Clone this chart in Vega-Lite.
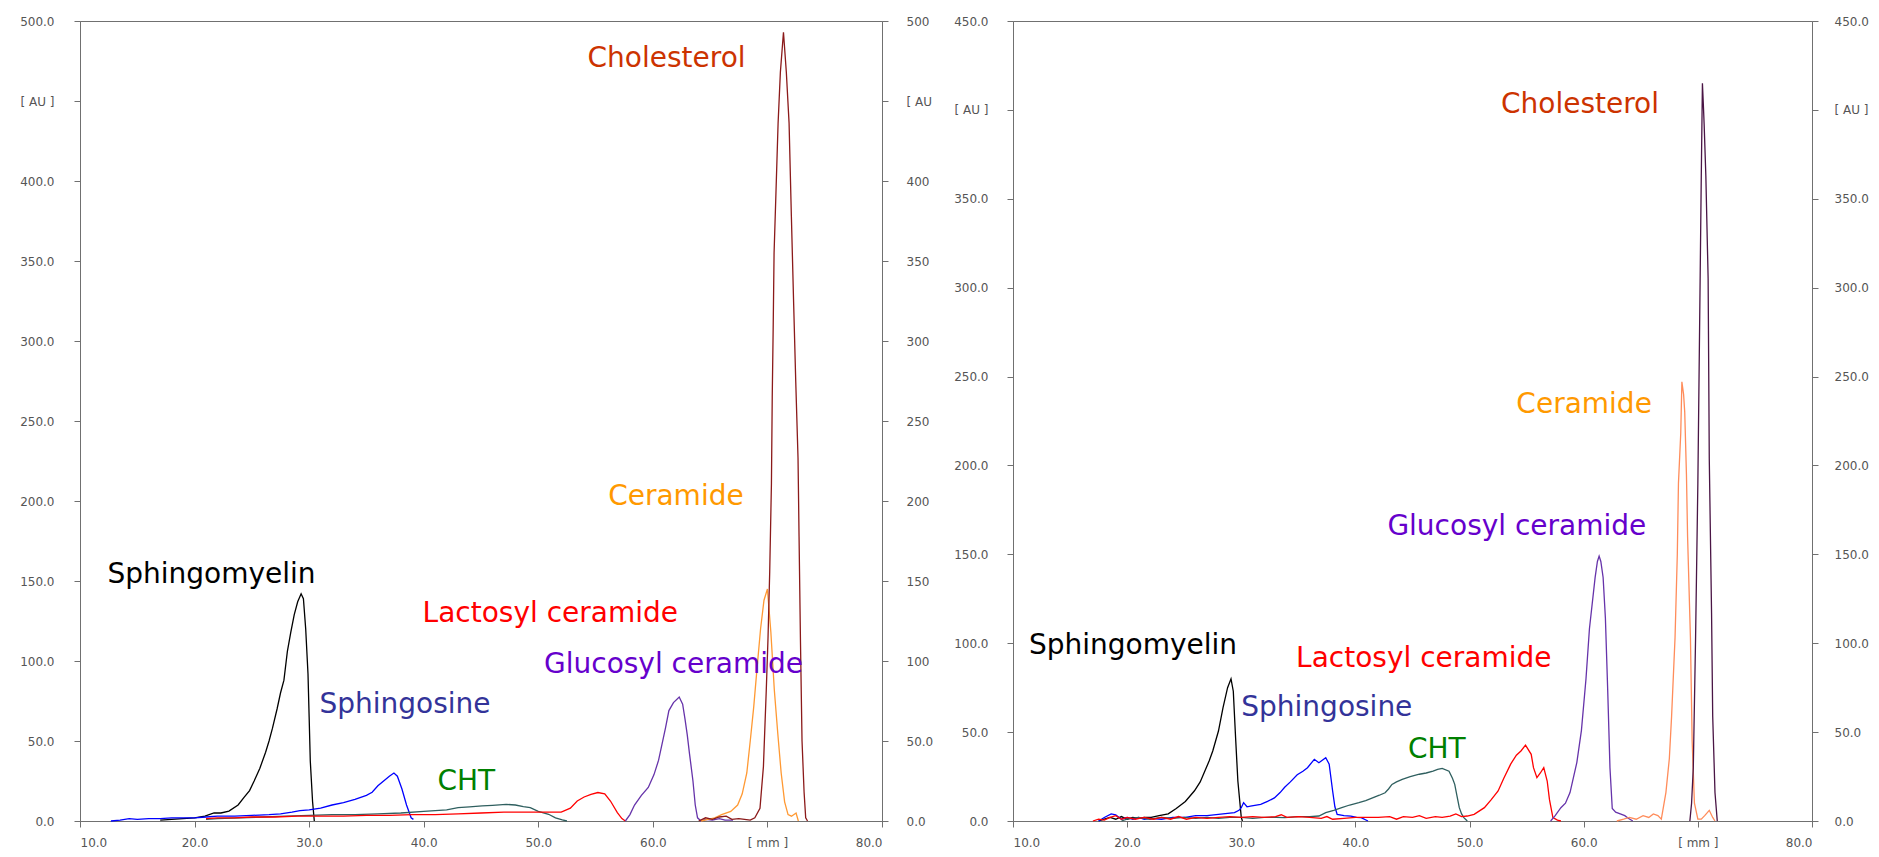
{
  "$schema": "https://vega.github.io/schema/vega-lite/v6.json",
  "background": "white",
  "padding": {"left": 19, "top": 14, "right": 0, "bottom": 0},
  "bounds": "flush",
  "spacing": 131,
  "resolve": {"scale": {"stroke": "independent", "fill": "independent"}},
  "config": {
    "view": {"stroke": "#707070", "strokeWidth": 1},
    "axis": {"domainColor": "#707070", "tickColor": "#707070", "labelColor": "#555555", "labelFont": "DejaVu Sans", "labelFontSize": 12, "grid": false, "title": null, "tickSize": 6},
    "line": {"strokeWidth": 1.3}
  },
  "datasets": {
    "left": [
      {"s":"Sphingomyelin","mm":17.0,"au":0.5},{"s":"Sphingomyelin","mm":18.0,"au":1},{"s":"Sphingomyelin","mm":19.0,"au":1.5},{"s":"Sphingomyelin","mm":20.0,"au":2},{"s":"Sphingomyelin","mm":20.9,"au":3.1},{"s":"Sphingomyelin","mm":21.7,"au":5},{"s":"Sphingomyelin","mm":22.3,"au":5},{"s":"Sphingomyelin","mm":23.0,"au":6.2},{"s":"Sphingomyelin","mm":23.8,"au":10},{"s":"Sphingomyelin","mm":24.3,"au":14.6},{"s":"Sphingomyelin","mm":24.8,"au":19},{"s":"Sphingomyelin","mm":25.2,"au":25},{"s":"Sphingomyelin","mm":25.7,"au":33},{"s":"Sphingomyelin","mm":26.2,"au":43},{"s":"Sphingomyelin","mm":26.5,"au":50},{"s":"Sphingomyelin","mm":26.8,"au":58},{"s":"Sphingomyelin","mm":27.2,"au":70},{"s":"Sphingomyelin","mm":27.5,"au":80},{"s":"Sphingomyelin","mm":27.8,"au":88},{"s":"Sphingomyelin","mm":28.1,"au":106},{"s":"Sphingomyelin","mm":28.4,"au":118},{"s":"Sphingomyelin","mm":28.7,"au":129},{"s":"Sphingomyelin","mm":29.0,"au":137},{"s":"Sphingomyelin","mm":29.3,"au":142},{"s":"Sphingomyelin","mm":29.5,"au":139},{"s":"Sphingomyelin","mm":29.7,"au":120},{"s":"Sphingomyelin","mm":29.9,"au":92},{"s":"Sphingomyelin","mm":30.0,"au":65},{"s":"Sphingomyelin","mm":30.1,"au":37.5},{"s":"Sphingomyelin","mm":30.3,"au":12},{"s":"Sphingomyelin","mm":30.45,"au":0},
      {"s":"Sphingosine","mm":12.7,"au":0},{"s":"Sphingosine","mm":13.5,"au":0.5},{"s":"Sphingosine","mm":14.3,"au":1.5},{"s":"Sphingosine","mm":15.0,"au":1},{"s":"Sphingosine","mm":16.0,"au":1.5},{"s":"Sphingosine","mm":17.0,"au":1.5},{"s":"Sphingosine","mm":18.0,"au":2},{"s":"Sphingosine","mm":19.0,"au":2},{"s":"Sphingosine","mm":20.0,"au":2},{"s":"Sphingosine","mm":21.0,"au":2.5},{"s":"Sphingosine","mm":22.0,"au":3},{"s":"Sphingosine","mm":23.5,"au":3},{"s":"Sphingosine","mm":25.0,"au":3.5},{"s":"Sphingosine","mm":26.5,"au":4},{"s":"Sphingosine","mm":27.5,"au":4.5},{"s":"Sphingosine","mm":28.5,"au":5.5},{"s":"Sphingosine","mm":29.2,"au":6.5},{"s":"Sphingosine","mm":30.0,"au":7},{"s":"Sphingosine","mm":31.0,"au":8},{"s":"Sphingosine","mm":32.0,"au":10},{"s":"Sphingosine","mm":33.0,"au":11.5},{"s":"Sphingosine","mm":34.0,"au":13.5},{"s":"Sphingosine","mm":35.0,"au":16},{"s":"Sphingosine","mm":35.5,"au":18},{"s":"Sphingosine","mm":36.0,"au":22},{"s":"Sphingosine","mm":36.5,"au":25},{"s":"Sphingosine","mm":37.0,"au":28},{"s":"Sphingosine","mm":37.4,"au":30},{"s":"Sphingosine","mm":37.7,"au":28},{"s":"Sphingosine","mm":38.1,"au":20},{"s":"Sphingosine","mm":38.5,"au":10},{"s":"Sphingosine","mm":38.9,"au":2},{"s":"Sphingosine","mm":39.1,"au":1},
      {"s":"CHT","mm":21.0,"au":1},{"s":"CHT","mm":22.0,"au":1.5},{"s":"CHT","mm":24.0,"au":2},{"s":"CHT","mm":26.0,"au":2.5},{"s":"CHT","mm":28.0,"au":3},{"s":"CHT","mm":30.0,"au":3.5},{"s":"CHT","mm":32.0,"au":4},{"s":"CHT","mm":34.0,"au":4},{"s":"CHT","mm":36.0,"au":4.5},{"s":"CHT","mm":38.0,"au":5},{"s":"CHT","mm":40.0,"au":6},{"s":"CHT","mm":42.0,"au":7},{"s":"CHT","mm":43.0,"au":8.3},{"s":"CHT","mm":44.0,"au":8.8},{"s":"CHT","mm":45.1,"au":9.4},{"s":"CHT","mm":46.0,"au":9.8},{"s":"CHT","mm":47.2,"au":10.4},{"s":"CHT","mm":48.0,"au":10},{"s":"CHT","mm":48.7,"au":9},{"s":"CHT","mm":49.3,"au":8.3},{"s":"CHT","mm":50.0,"au":6},{"s":"CHT","mm":50.9,"au":4.2},{"s":"CHT","mm":51.5,"au":2},{"s":"CHT","mm":52.1,"au":0.7},{"s":"CHT","mm":52.5,"au":0},
      {"s":"Lactosyl ceramide","mm":21.0,"au":1.5},{"s":"Lactosyl ceramide","mm":22.0,"au":2},{"s":"Lactosyl ceramide","mm":23.5,"au":2},{"s":"Lactosyl ceramide","mm":25.0,"au":2.5},{"s":"Lactosyl ceramide","mm":27.0,"au":2.5},{"s":"Lactosyl ceramide","mm":29.0,"au":3},{"s":"Lactosyl ceramide","mm":31.0,"au":3},{"s":"Lactosyl ceramide","mm":33.0,"au":3},{"s":"Lactosyl ceramide","mm":35.0,"au":3.5},{"s":"Lactosyl ceramide","mm":37.0,"au":3.5},{"s":"Lactosyl ceramide","mm":39.0,"au":4},{"s":"Lactosyl ceramide","mm":41.0,"au":4},{"s":"Lactosyl ceramide","mm":43.0,"au":4.5},{"s":"Lactosyl ceramide","mm":45.0,"au":5},{"s":"Lactosyl ceramide","mm":47.0,"au":5.5},{"s":"Lactosyl ceramide","mm":49.0,"au":5.5},{"s":"Lactosyl ceramide","mm":51.0,"au":5.5},{"s":"Lactosyl ceramide","mm":52.0,"au":5.5},{"s":"Lactosyl ceramide","mm":52.8,"au":8},{"s":"Lactosyl ceramide","mm":53.4,"au":12.5},{"s":"Lactosyl ceramide","mm":54.0,"au":15},{"s":"Lactosyl ceramide","mm":54.6,"au":16.7},{"s":"Lactosyl ceramide","mm":55.2,"au":17.8},{"s":"Lactosyl ceramide","mm":55.8,"au":17},{"s":"Lactosyl ceramide","mm":56.3,"au":12.5},{"s":"Lactosyl ceramide","mm":56.9,"au":5.2},{"s":"Lactosyl ceramide","mm":57.3,"au":1.5},{"s":"Lactosyl ceramide","mm":57.6,"au":0},
      {"s":"Glucosyl ceramide","mm":57.6,"au":0},{"s":"Glucosyl ceramide","mm":58.0,"au":4},{"s":"Glucosyl ceramide","mm":58.4,"au":10},{"s":"Glucosyl ceramide","mm":59.0,"au":16},{"s":"Glucosyl ceramide","mm":59.6,"au":21},{"s":"Glucosyl ceramide","mm":60.1,"au":29},{"s":"Glucosyl ceramide","mm":60.5,"au":38},{"s":"Glucosyl ceramide","mm":60.8,"au":48},{"s":"Glucosyl ceramide","mm":61.1,"au":58},{"s":"Glucosyl ceramide","mm":61.4,"au":69},{"s":"Glucosyl ceramide","mm":61.8,"au":74},{"s":"Glucosyl ceramide","mm":62.3,"au":77.5},{"s":"Glucosyl ceramide","mm":62.6,"au":73},{"s":"Glucosyl ceramide","mm":62.8,"au":64},{"s":"Glucosyl ceramide","mm":63.0,"au":54},{"s":"Glucosyl ceramide","mm":63.2,"au":42},{"s":"Glucosyl ceramide","mm":63.5,"au":25},{"s":"Glucosyl ceramide","mm":63.7,"au":10},{"s":"Glucosyl ceramide","mm":63.9,"au":2},{"s":"Glucosyl ceramide","mm":64.2,"au":0},{"s":"Glucosyl ceramide","mm":64.6,"au":1},{"s":"Glucosyl ceramide","mm":65.2,"au":0.5},{"s":"Glucosyl ceramide","mm":65.8,"au":1.5},{"s":"Glucosyl ceramide","mm":66.3,"au":0.5},{"s":"Glucosyl ceramide","mm":67.0,"au":0.5},
      {"s":"Ceramide","mm":64.2,"au":0},{"s":"Ceramide","mm":64.8,"au":1},{"s":"Ceramide","mm":65.4,"au":2},{"s":"Ceramide","mm":66.0,"au":4},{"s":"Ceramide","mm":66.8,"au":6},{"s":"Ceramide","mm":67.4,"au":10},{"s":"Ceramide","mm":67.8,"au":17},{"s":"Ceramide","mm":68.2,"au":30},{"s":"Ceramide","mm":68.5,"au":50},{"s":"Ceramide","mm":68.8,"au":71},{"s":"Ceramide","mm":69.1,"au":96},{"s":"Ceramide","mm":69.4,"au":120},{"s":"Ceramide","mm":69.7,"au":138},{"s":"Ceramide","mm":70.0,"au":145},{"s":"Ceramide","mm":70.3,"au":118},{"s":"Ceramide","mm":70.6,"au":82},{"s":"Ceramide","mm":70.9,"au":55},{"s":"Ceramide","mm":71.2,"au":30},{"s":"Ceramide","mm":71.5,"au":12},{"s":"Ceramide","mm":71.8,"au":4},{"s":"Ceramide","mm":72.1,"au":3},{"s":"Ceramide","mm":72.5,"au":5},{"s":"Ceramide","mm":72.7,"au":0},
      {"s":"Cholesterol","mm":64.0,"au":0},{"s":"Cholesterol","mm":64.6,"au":2},{"s":"Cholesterol","mm":65.2,"au":1},{"s":"Cholesterol","mm":65.8,"au":2.5},{"s":"Cholesterol","mm":66.4,"au":3},{"s":"Cholesterol","mm":66.9,"au":1},{"s":"Cholesterol","mm":67.5,"au":1.5},{"s":"Cholesterol","mm":68.0,"au":1},{"s":"Cholesterol","mm":68.5,"au":0.5},{"s":"Cholesterol","mm":68.9,"au":2},{"s":"Cholesterol","mm":69.35,"au":8},{"s":"Cholesterol","mm":69.65,"au":34},{"s":"Cholesterol","mm":69.9,"au":82},{"s":"Cholesterol","mm":70.05,"au":114},{"s":"Cholesterol","mm":70.2,"au":156},{"s":"Cholesterol","mm":70.35,"au":211},{"s":"Cholesterol","mm":70.42,"au":265},{"s":"Cholesterol","mm":70.5,"au":307},{"s":"Cholesterol","mm":70.58,"au":355},{"s":"Cholesterol","mm":70.72,"au":387},{"s":"Cholesterol","mm":70.93,"au":436},{"s":"Cholesterol","mm":71.13,"au":468},{"s":"Cholesterol","mm":71.4,"au":493},{"s":"Cholesterol","mm":71.65,"au":468},{"s":"Cholesterol","mm":71.89,"au":436},{"s":"Cholesterol","mm":72.09,"au":378},{"s":"Cholesterol","mm":72.29,"au":323},{"s":"Cholesterol","mm":72.47,"au":275},{"s":"Cholesterol","mm":72.67,"au":227},{"s":"Cholesterol","mm":72.76,"au":178},{"s":"Cholesterol","mm":72.88,"au":114},{"s":"Cholesterol","mm":73.02,"au":50},{"s":"Cholesterol","mm":73.2,"au":18},{"s":"Cholesterol","mm":73.34,"au":2},{"s":"Cholesterol","mm":73.5,"au":0}
    ],
    "right": [
      {"s":"Sphingomyelin","mm":17.5,"au":0},{"s":"Sphingomyelin","mm":18.0,"au":1},{"s":"Sphingomyelin","mm":18.5,"au":2},{"s":"Sphingomyelin","mm":19.0,"au":1},{"s":"Sphingomyelin","mm":19.5,"au":2.5},{"s":"Sphingomyelin","mm":20.0,"au":1},{"s":"Sphingomyelin","mm":20.5,"au":2},{"s":"Sphingomyelin","mm":21.0,"au":1.5},{"s":"Sphingomyelin","mm":21.5,"au":2},{"s":"Sphingomyelin","mm":22.1,"au":2},{"s":"Sphingomyelin","mm":22.8,"au":3},{"s":"Sphingomyelin","mm":23.6,"au":4},{"s":"Sphingomyelin","mm":24.3,"au":7},{"s":"Sphingomyelin","mm":25.1,"au":11},{"s":"Sphingomyelin","mm":25.9,"au":17},{"s":"Sphingomyelin","mm":26.4,"au":22},{"s":"Sphingomyelin","mm":26.8,"au":28},{"s":"Sphingomyelin","mm":27.2,"au":34},{"s":"Sphingomyelin","mm":27.5,"au":39.4},{"s":"Sphingomyelin","mm":28.0,"au":50.6},{"s":"Sphingomyelin","mm":28.4,"au":63.8},{"s":"Sphingomyelin","mm":28.8,"au":75},{"s":"Sphingomyelin","mm":29.1,"au":80},{"s":"Sphingomyelin","mm":29.3,"au":73},{"s":"Sphingomyelin","mm":29.5,"au":47},{"s":"Sphingomyelin","mm":29.7,"au":22.5},{"s":"Sphingomyelin","mm":30.0,"au":2},{"s":"Sphingomyelin","mm":30.1,"au":0},
      {"s":"Sphingosine","mm":17.5,"au":0},{"s":"Sphingosine","mm":18.0,"au":2},{"s":"Sphingosine","mm":18.6,"au":4},{"s":"Sphingosine","mm":19.0,"au":3.5},{"s":"Sphingosine","mm":19.5,"au":1},{"s":"Sphingosine","mm":20.0,"au":2},{"s":"Sphingosine","mm":20.5,"au":1},{"s":"Sphingosine","mm":21.0,"au":2},{"s":"Sphingosine","mm":21.5,"au":1},{"s":"Sphingosine","mm":22.0,"au":1.5},{"s":"Sphingosine","mm":23.0,"au":1},{"s":"Sphingosine","mm":24.0,"au":2},{"s":"Sphingosine","mm":25.1,"au":2},{"s":"Sphingosine","mm":26.0,"au":3},{"s":"Sphingosine","mm":27.0,"au":3},{"s":"Sphingosine","mm":28.0,"au":3.75},{"s":"Sphingosine","mm":29.4,"au":4.7},{"s":"Sphingosine","mm":29.8,"au":6},{"s":"Sphingosine","mm":30.0,"au":7.5},{"s":"Sphingosine","mm":30.2,"au":10.3},{"s":"Sphingosine","mm":30.5,"au":8},{"s":"Sphingosine","mm":30.8,"au":8.4},{"s":"Sphingosine","mm":31.7,"au":9.4},{"s":"Sphingosine","mm":32.3,"au":11},{"s":"Sphingosine","mm":32.9,"au":13},{"s":"Sphingosine","mm":33.4,"au":16},{"s":"Sphingosine","mm":33.8,"au":19},{"s":"Sphingosine","mm":34.3,"au":22},{"s":"Sphingosine","mm":34.9,"au":26},{"s":"Sphingosine","mm":35.4,"au":28},{"s":"Sphingosine","mm":35.8,"au":30},{"s":"Sphingosine","mm":36.4,"au":34.7},{"s":"Sphingosine","mm":36.8,"au":32.8},{"s":"Sphingosine","mm":37.4,"au":35.6},{"s":"Sphingosine","mm":37.7,"au":32},{"s":"Sphingosine","mm":38.0,"au":17},{"s":"Sphingosine","mm":38.2,"au":8},{"s":"Sphingosine","mm":38.4,"au":3.75},{"s":"Sphingosine","mm":39.0,"au":3},{"s":"Sphingosine","mm":39.6,"au":2.8},{"s":"Sphingosine","mm":40.1,"au":2},{"s":"Sphingosine","mm":40.5,"au":1.9},{"s":"Sphingosine","mm":41.1,"au":0},
      {"s":"CHT","mm":19.5,"au":0},{"s":"CHT","mm":20.0,"au":1},{"s":"CHT","mm":21.0,"au":2},{"s":"CHT","mm":22.0,"au":1},{"s":"CHT","mm":23.0,"au":2},{"s":"CHT","mm":24.0,"au":1.5},{"s":"CHT","mm":25.0,"au":2},{"s":"CHT","mm":26.0,"au":1.5},{"s":"CHT","mm":27.0,"au":2},{"s":"CHT","mm":28.0,"au":1.5},{"s":"CHT","mm":29.0,"au":2},{"s":"CHT","mm":30.0,"au":2},{"s":"CHT","mm":31.0,"au":1.5},{"s":"CHT","mm":32.0,"au":2},{"s":"CHT","mm":33.0,"au":2},{"s":"CHT","mm":33.8,"au":1.9},{"s":"CHT","mm":35.0,"au":2.5},{"s":"CHT","mm":36.0,"au":2.5},{"s":"CHT","mm":36.8,"au":2.8},{"s":"CHT","mm":37.4,"au":4.7},{"s":"CHT","mm":38.1,"au":6},{"s":"CHT","mm":38.8,"au":7.5},{"s":"CHT","mm":39.5,"au":9},{"s":"CHT","mm":40.3,"au":10.3},{"s":"CHT","mm":40.9,"au":11.5},{"s":"CHT","mm":41.5,"au":13},{"s":"CHT","mm":42.1,"au":14.5},{"s":"CHT","mm":42.6,"au":15.9},{"s":"CHT","mm":42.9,"au":18},{"s":"CHT","mm":43.2,"au":20.6},{"s":"CHT","mm":43.6,"au":22},{"s":"CHT","mm":44.1,"au":23.4},{"s":"CHT","mm":44.8,"au":25},{"s":"CHT","mm":45.6,"au":26.3},{"s":"CHT","mm":46.2,"au":27},{"s":"CHT","mm":46.8,"au":28},{"s":"CHT","mm":47.2,"au":29},{"s":"CHT","mm":47.6,"au":29.6},{"s":"CHT","mm":48.2,"au":28},{"s":"CHT","mm":48.5,"au":24},{"s":"CHT","mm":48.7,"au":20.6},{"s":"CHT","mm":48.9,"au":14},{"s":"CHT","mm":49.1,"au":7.5},{"s":"CHT","mm":49.3,"au":4},{"s":"CHT","mm":49.5,"au":1.9},{"s":"CHT","mm":49.8,"au":0},
      {"s":"Lactosyl ceramide","mm":17.0,"au":0},{"s":"Lactosyl ceramide","mm":17.5,"au":1},{"s":"Lactosyl ceramide","mm":18.0,"au":0.5},{"s":"Lactosyl ceramide","mm":18.5,"au":2},{"s":"Lactosyl ceramide","mm":19.0,"au":3},{"s":"Lactosyl ceramide","mm":19.5,"au":1},{"s":"Lactosyl ceramide","mm":20.0,"au":2},{"s":"Lactosyl ceramide","mm":20.7,"au":1},{"s":"Lactosyl ceramide","mm":21.5,"au":2},{"s":"Lactosyl ceramide","mm":22.3,"au":1},{"s":"Lactosyl ceramide","mm":23.0,"au":2},{"s":"Lactosyl ceramide","mm":23.8,"au":1},{"s":"Lactosyl ceramide","mm":24.5,"au":2.5},{"s":"Lactosyl ceramide","mm":25.2,"au":1},{"s":"Lactosyl ceramide","mm":26.0,"au":2},{"s":"Lactosyl ceramide","mm":27.0,"au":1.5},{"s":"Lactosyl ceramide","mm":28.0,"au":2},{"s":"Lactosyl ceramide","mm":29.0,"au":2.5},{"s":"Lactosyl ceramide","mm":30.0,"au":2},{"s":"Lactosyl ceramide","mm":31.0,"au":2.5},{"s":"Lactosyl ceramide","mm":32.0,"au":2},{"s":"Lactosyl ceramide","mm":33.0,"au":2.5},{"s":"Lactosyl ceramide","mm":33.5,"au":3.5},{"s":"Lactosyl ceramide","mm":34.0,"au":2},{"s":"Lactosyl ceramide","mm":35.0,"au":2.5},{"s":"Lactosyl ceramide","mm":36.0,"au":2},{"s":"Lactosyl ceramide","mm":37.0,"au":1.5},{"s":"Lactosyl ceramide","mm":37.5,"au":2.5},{"s":"Lactosyl ceramide","mm":38.0,"au":1},{"s":"Lactosyl ceramide","mm":39.0,"au":1.5},{"s":"Lactosyl ceramide","mm":40.0,"au":2},{"s":"Lactosyl ceramide","mm":41.0,"au":2},{"s":"Lactosyl ceramide","mm":42.0,"au":2},{"s":"Lactosyl ceramide","mm":43.0,"au":2.5},{"s":"Lactosyl ceramide","mm":43.6,"au":1},{"s":"Lactosyl ceramide","mm":44.2,"au":2.5},{"s":"Lactosyl ceramide","mm":45.0,"au":2},{"s":"Lactosyl ceramide","mm":45.6,"au":3},{"s":"Lactosyl ceramide","mm":46.2,"au":1.5},{"s":"Lactosyl ceramide","mm":47.0,"au":2.5},{"s":"Lactosyl ceramide","mm":47.6,"au":2},{"s":"Lactosyl ceramide","mm":48.3,"au":2.8},{"s":"Lactosyl ceramide","mm":48.8,"au":4},{"s":"Lactosyl ceramide","mm":49.3,"au":2.5},{"s":"Lactosyl ceramide","mm":49.8,"au":2.8},{"s":"Lactosyl ceramide","mm":50.4,"au":3.75},{"s":"Lactosyl ceramide","mm":51.3,"au":7.5},{"s":"Lactosyl ceramide","mm":51.9,"au":12},{"s":"Lactosyl ceramide","mm":52.5,"au":16.9},{"s":"Lactosyl ceramide","mm":53.0,"au":24},{"s":"Lactosyl ceramide","mm":53.6,"au":32},{"s":"Lactosyl ceramide","mm":54.1,"au":37},{"s":"Lactosyl ceramide","mm":54.5,"au":39.4},{"s":"Lactosyl ceramide","mm":54.9,"au":42.7},{"s":"Lactosyl ceramide","mm":55.4,"au":37.5},{"s":"Lactosyl ceramide","mm":55.6,"au":30},{"s":"Lactosyl ceramide","mm":55.9,"au":24.4},{"s":"Lactosyl ceramide","mm":56.2,"au":27},{"s":"Lactosyl ceramide","mm":56.5,"au":30},{"s":"Lactosyl ceramide","mm":56.8,"au":22.5},{"s":"Lactosyl ceramide","mm":57.0,"au":12},{"s":"Lactosyl ceramide","mm":57.3,"au":1.9},{"s":"Lactosyl ceramide","mm":57.7,"au":0.5},{"s":"Lactosyl ceramide","mm":58.0,"au":0},
      {"s":"Glucosyl ceramide","mm":57.1,"au":0},{"s":"Glucosyl ceramide","mm":57.5,"au":3},{"s":"Glucosyl ceramide","mm":58.0,"au":7.5},{"s":"Glucosyl ceramide","mm":58.4,"au":10},{"s":"Glucosyl ceramide","mm":58.8,"au":16},{"s":"Glucosyl ceramide","mm":59.4,"au":33},{"s":"Glucosyl ceramide","mm":59.8,"au":51},{"s":"Glucosyl ceramide","mm":60.2,"au":80},{"s":"Glucosyl ceramide","mm":60.5,"au":108},{"s":"Glucosyl ceramide","mm":61.0,"au":137},{"s":"Glucosyl ceramide","mm":61.2,"au":146},{"s":"Glucosyl ceramide","mm":61.35,"au":149},{"s":"Glucosyl ceramide","mm":61.5,"au":146},{"s":"Glucosyl ceramide","mm":61.7,"au":137},{"s":"Glucosyl ceramide","mm":61.9,"au":114},{"s":"Glucosyl ceramide","mm":62.1,"au":74},{"s":"Glucosyl ceramide","mm":62.3,"au":30},{"s":"Glucosyl ceramide","mm":62.5,"au":7},{"s":"Glucosyl ceramide","mm":62.8,"au":5},{"s":"Glucosyl ceramide","mm":63.2,"au":4},{"s":"Glucosyl ceramide","mm":63.6,"au":3},{"s":"Glucosyl ceramide","mm":63.9,"au":1.5},{"s":"Glucosyl ceramide","mm":64.3,"au":0},
      {"s":"Ceramide","mm":62.9,"au":0},{"s":"Ceramide","mm":63.5,"au":1},{"s":"Ceramide","mm":64.0,"au":2},{"s":"Ceramide","mm":64.6,"au":1},{"s":"Ceramide","mm":65.2,"au":3},{"s":"Ceramide","mm":65.7,"au":2},{"s":"Ceramide","mm":66.1,"au":4},{"s":"Ceramide","mm":66.5,"au":3},{"s":"Ceramide","mm":66.8,"au":1},{"s":"Ceramide","mm":67.2,"au":16},{"s":"Ceramide","mm":67.5,"au":35},{"s":"Ceramide","mm":67.7,"au":59},{"s":"Ceramide","mm":68.0,"au":103},{"s":"Ceramide","mm":68.2,"au":150},{"s":"Ceramide","mm":68.3,"au":190},{"s":"Ceramide","mm":68.5,"au":218},{"s":"Ceramide","mm":68.6,"au":247},{"s":"Ceramide","mm":68.75,"au":240},{"s":"Ceramide","mm":68.85,"au":230},{"s":"Ceramide","mm":69.0,"au":195},{"s":"Ceramide","mm":69.1,"au":160},{"s":"Ceramide","mm":69.35,"au":103},{"s":"Ceramide","mm":69.5,"au":45},{"s":"Ceramide","mm":69.7,"au":10},{"s":"Ceramide","mm":70.0,"au":1},{"s":"Ceramide","mm":70.3,"au":1},{"s":"Ceramide","mm":70.6,"au":3},{"s":"Ceramide","mm":71.0,"au":6},{"s":"Ceramide","mm":71.3,"au":2},{"s":"Ceramide","mm":71.5,"au":0},
      {"s":"Cholesterol","mm":69.3,"au":0},{"s":"Cholesterol","mm":69.45,"au":10},{"s":"Cholesterol","mm":69.6,"au":30},{"s":"Cholesterol","mm":69.8,"au":103},{"s":"Cholesterol","mm":70.0,"au":190},{"s":"Cholesterol","mm":70.15,"au":276},{"s":"Cholesterol","mm":70.3,"au":363},{"s":"Cholesterol","mm":70.4,"au":415},{"s":"Cholesterol","mm":70.5,"au":400},{"s":"Cholesterol","mm":70.55,"au":392},{"s":"Cholesterol","mm":70.7,"au":363},{"s":"Cholesterol","mm":70.9,"au":305},{"s":"Cholesterol","mm":71.0,"au":204},{"s":"Cholesterol","mm":71.2,"au":117},{"s":"Cholesterol","mm":71.3,"au":59},{"s":"Cholesterol","mm":71.5,"au":16},{"s":"Cholesterol","mm":71.7,"au":0}
    ],
    "leftLabels": [
      {"label":"Sphingomyelin","mm":12.4,"au":149},
      {"label":"Sphingosine","mm":30.9,"au":67.6},
      {"label":"CHT","mm":41.2,"au":19.6},
      {"label":"Lactosyl ceramide","mm":39.9,"au":124.6},
      {"label":"Glucosyl ceramide","mm":50.5,"au":92.5},
      {"label":"Ceramide","mm":56.1,"au":197.8},
      {"label":"Cholesterol","mm":54.3,"au":471}
    ],
    "rightLabels": [
      {"label":"Sphingomyelin","mm":11.4,"au":94},
      {"label":"Sphingosine","mm":30.0,"au":59},
      {"label":"CHT","mm":44.6,"au":35.6},
      {"label":"Lactosyl ceramide","mm":34.8,"au":86.6},
      {"label":"Glucosyl ceramide","mm":42.8,"au":161},
      {"label":"Ceramide","mm":54.1,"au":229.5},
      {"label":"Cholesterol","mm":52.75,"au":398.5}
    ]
  },
  "hconcat": [
    {
      "width": 802,
      "height": 800,
      "layer": [
        {
          "data": {"name": "left"},
          "mark": {"type": "line", "strokeWidth": 1.3},
          "encoding": {
            "x": {"field": "mm", "type": "quantitative", "scale": {"domain": [10, 80], "nice": false, "zero": false}, "axis": {"values": [10,20,30,40,50,60,70,80], "labelExpr": "datum.value == 70 ? '[ mm ]' : format(datum.value, '.1f')", "labelPadding": 10, "labelBaseline": "top"}},
            "y": {"field": "au", "type": "quantitative", "scale": {"domain": [0, 500], "nice": false}, "axis": {"orient": "left", "values": [0,50,100,150,200,250,300,350,400,450,500], "labelExpr": "datum.value == 450 ? '[ AU ]' : format(datum.value, '.1f')", "labelPadding": 20}},
            "stroke": {"field": "s", "type": "nominal", "legend": null, "scale": {"domain": ["Sphingomyelin","Sphingosine","CHT","Lactosyl ceramide","Glucosyl ceramide","Ceramide","Cholesterol"], "range": ["#000000","#0000FF","#2F5F5F","#FF0000","#6633AA","#FF9933","#8B1A1A"]}}
          }
        },
        {
          "data": {"name": "leftLabels"},
          "mark": {"type": "text", "font": "DejaVu Sans", "fontSize": 28, "align": "left", "baseline": "alphabetic"},
          "encoding": {
            "x": {"field": "mm", "type": "quantitative", "scale": {"domain": [10, 80], "nice": false, "zero": false}, "axis": {"values": [10,20,30,40,50,60,70,80], "labelExpr": "datum.value == 70 ? '[ mm ]' : format(datum.value, '.1f')", "labelPadding": 10, "labelBaseline": "top"}},
            "y": {"field": "au", "type": "quantitative", "scale": {"domain": [0, 500], "nice": false}, "axis": {"orient": "right", "values": [0,50,100,150,200,250,300,350,400,450,500], "labelExpr": "datum.value == 450 ? '[ AU' : (datum.value >= 100 ? format(datum.value, 'd') : format(datum.value, '.1f'))", "labelPadding": 18}},
            "text": {"field": "label", "type": "nominal"},
            "fill": {"field": "label", "type": "nominal", "legend": null, "scale": {"domain": ["Sphingomyelin","Sphingosine","CHT","Lactosyl ceramide","Glucosyl ceramide","Ceramide","Cholesterol"], "range": ["#000000","#333399","#008000","#FF0000","#6600CC","#FF9900","#CC3300"]}}
          }
        }
      ],
      "resolve": {"axis": {"y": "independent"}}
    },
    {
      "width": 799,
      "height": 800,
      "layer": [
        {
          "data": {"name": "right"},
          "mark": {"type": "line", "strokeWidth": 1.3},
          "encoding": {
            "x": {"field": "mm", "type": "quantitative", "scale": {"domain": [10, 80], "nice": false, "zero": false}, "axis": {"values": [10,20,30,40,50,60,70,80], "labelExpr": "datum.value == 70 ? '[ mm ]' : format(datum.value, '.1f')", "labelPadding": 10, "labelBaseline": "top"}},
            "y": {"field": "au", "type": "quantitative", "scale": {"domain": [0, 450], "nice": false}, "axis": {"orient": "left", "values": [0,50,100,150,200,250,300,350,400,450], "labelExpr": "datum.value == 400 ? '[ AU ]' : format(datum.value, '.1f')", "labelPadding": 19}},
            "stroke": {"field": "s", "type": "nominal", "legend": null, "scale": {"domain": ["Sphingomyelin","Sphingosine","CHT","Lactosyl ceramide","Glucosyl ceramide","Ceramide","Cholesterol"], "range": ["#000000","#0000FF","#2F5F5F","#FF0000","#6633AA","#FF8C5A","#4A1545"]}}
          }
        },
        {
          "data": {"name": "rightLabels"},
          "mark": {"type": "text", "font": "DejaVu Sans", "fontSize": 28, "align": "left", "baseline": "alphabetic"},
          "encoding": {
            "x": {"field": "mm", "type": "quantitative", "scale": {"domain": [10, 80], "nice": false, "zero": false}, "axis": {"values": [10,20,30,40,50,60,70,80], "labelExpr": "datum.value == 70 ? '[ mm ]' : format(datum.value, '.1f')", "labelPadding": 10, "labelBaseline": "top"}},
            "y": {"field": "au", "type": "quantitative", "scale": {"domain": [0, 450], "nice": false}, "axis": {"orient": "right", "values": [0,50,100,150,200,250,300,350,400,450], "labelExpr": "datum.value == 400 ? '[ AU ]' : format(datum.value, '.1f')", "labelPadding": 16}},
            "text": {"field": "label", "type": "nominal"},
            "fill": {"field": "label", "type": "nominal", "legend": null, "scale": {"domain": ["Sphingomyelin","Sphingosine","CHT","Lactosyl ceramide","Glucosyl ceramide","Ceramide","Cholesterol"], "range": ["#000000","#333399","#008000","#FF0000","#6600CC","#FF9900","#CC3300"]}}
          }
        }
      ],
      "resolve": {"axis": {"y": "independent"}}
    }
  ]
}
